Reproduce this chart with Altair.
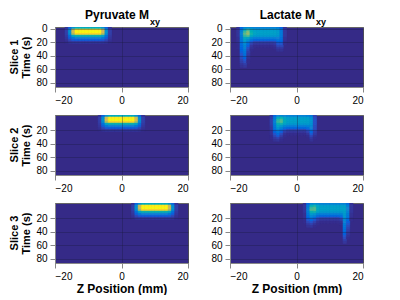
import altair as alt
import pandas as pd

# ---- axes ----
Z_DOMAIN = [-20, 20]
Z_TICKS = [-20, 0, 20]
T_DOMAIN = [-2.5, 86.5]
T_TICKS_TOP = [0, 20, 40, 60, 80]
T_TICKS = [20, 40, 60, 80]
T_START = -2.5   # top edge of first time row (s)
T_STEP = 3       # time row height (s)
Z_STEP = 1       # z cell width (mm)

ROW_LABELS = ["Slice 1", "Slice 2", "Slice 3"]
COL_TITLES = ["Pyruvate M", "Lactate M"]
SUBSCRIPT = "xy"
X_TITLE = "Z Position (mm)"
Y_TITLE = "Time (s)"

# ---- parula colormap samples (0 .. 1) ----
PARULA = ["#352a87", "#0363e1", "#1485d4", "#06a7c6", "#38b99e",
          "#92bf73", "#d9ba56", "#fcce2e", "#f9fb0e"]
BG = "#352a87"

# ---- Pyruvate Mxy (same shape for each slice, shifted) ----
PYR = [
    [.02, .12, .30, .40, .40, .40, .40, .40, .40, .40, .40, .30, .12, .02],
    [.05, .28, .72, .95, .95, .95, .95, .95, .95, .95, .95, .72, .28, .05],
    [.05, .30, .75, 1.0, 1.0, 1.0, 1.0, 1.0, 1.0, 1.0, 1.0, .75, .30, .05],
    [.05, .28, .68, .90, .90, .90, .90, .90, .90, .90, .90, .68, .28, .05],
    [.04, .18, .38, .45, .45, .45, .45, .45, .45, .45, .45, .38, .18, .04],
    [.03, .12, .22, .25, .25, .25, .25, .25, .25, .25, .25, .22, .12, .03],
    [.02, .07, .11, .12, .12, .12, .12, .12, .12, .12, .12, .11, .07, .02],
    [.01, .03, .04, .04, .04, .04, .04, .04, .04, .04, .04, .04, .03, .01],
]
PYR_Z0 = [-17, -7, 3]

# ---- Lactate Mxy, slice 1 ----
LAC1_Z0 = -18
LAC1 = [
    [.02, .14, .26, .28, .26, .24, .24, .24, .24, .24, .24, .24, .22, .13, .02],
    [.03, .20, .40, .50, .40, .35, .34, .34, .34, .34, .34, .34, .32, .19, .03],
    [.03, .23, .50, .60, .44, .37, .36, .36, .36, .36, .36, .36, .34, .21, .03],
    [.03, .24, .55, .64, .46, .38, .36, .36, .36, .36, .36, .36, .34, .21, .03],
    [.03, .23, .50, .54, .40, .34, .33, .33, .33, .33, .33, .33, .32, .20, .03],
    [.02, .21, .40, .38, .28, .24, .24, .24, .24, .24, .24, .24, .25, .18, .02],
    [.02, .20, .36, .30, .20, .15, .15, .15, .15, .15, .15, .16, .20, .16, .02],
    [.02, .18, .32, .22, .11, .07, .07, .07, .07, .07, .07, .08, .14, .13, .01],
    [.01, .16, .28, .16, .06, .03, .03, .03, .03, .03, .03, .04, .10, .10, .01],
    [.01, .15, .26, .12, .03, .01, .01, .01, .01, .01, .01, .02, .07, .07, 0],
    [.01, .14, .24, .09, .02, 0, 0, 0, 0, 0, 0, .01, .04, .04, 0],
    [0, .13, .22, .07, .01, 0, 0, 0, 0, 0, 0, 0, .02, .02, 0],
    [0, .12, .20, .05, 0, 0, 0, 0, 0, 0, 0, 0, 0, 0, 0],
    [0, .10, .18, .04, 0, 0, 0, 0, 0, 0, 0, 0, 0, 0, 0],
    [0, .09, .16, .03, 0, 0, 0, 0, 0, 0, 0, 0, 0, 0, 0],
    [0, .08, .13, .02, 0, 0, 0, 0, 0, 0, 0, 0, 0, 0, 0],
    [0, .06, .10, .01, 0, 0, 0, 0, 0, 0, 0, 0, 0, 0, 0],
    [0, .05, .08, .01, 0, 0, 0, 0, 0, 0, 0, 0, 0, 0, 0],
    [0, .03, .05, 0, 0, 0, 0, 0, 0, 0, 0, 0, 0, 0, 0],
    [0, .02, .03, 0, 0, 0, 0, 0, 0, 0, 0, 0, 0, 0, 0],
]

# ---- Lactate Mxy, slice 2 ----
LAC2_Z0 = -8
LAC2 = [
    [.03, .14, .25, .27, .25, .24, .24, .24, .24, .24, .24, .23, .20, .06],
    [.04, .20, .40, .45, .37, .34, .34, .34, .34, .34, .34, .33, .29, .08],
    [.05, .23, .48, .52, .40, .36, .36, .36, .36, .36, .36, .35, .31, .09],
    [.05, .24, .50, .54, .41, .36, .36, .36, .36, .36, .36, .35, .31, .09],
    [.05, .23, .45, .46, .37, .33, .33, .33, .33, .33, .33, .33, .30, .09],
    [.04, .21, .37, .34, .27, .24, .24, .24, .24, .24, .24, .26, .27, .08],
    [.03, .19, .32, .26, .18, .15, .15, .15, .15, .15, .15, .18, .25, .08],
    [.03, .16, .26, .18, .10, .07, .07, .07, .07, .07, .07, .11, .20, .07],
    [.02, .13, .21, .12, .05, .03, .03, .03, .03, .03, .03, .06, .15, .05],
    [.02, .10, .16, .08, .02, .01, .01, .01, .01, .01, .01, .03, .11, .04],
    [.01, .07, .11, .05, .01, 0, 0, 0, 0, 0, 0, .01, .07, .02],
    [.01, .04, .06, .02, 0, 0, 0, 0, 0, 0, 0, 0, .04, .01],
    [0, .02, .03, .01, 0, 0, 0, 0, 0, 0, 0, 0, .02, 0],
]

# ---- Lactate Mxy, slice 3 ----
LAC3_Z0 = 2
LAC3 = [
    [.02, .14, .26, .28, .26, .24, .24, .24, .24, .24, .24, .24, .24, .16, .02],
    [.03, .20, .42, .46, .37, .34, .34, .34, .34, .34, .34, .34, .34, .23, .03],
    [.03, .23, .50, .53, .40, .36, .36, .36, .36, .36, .36, .36, .36, .25, .03],
    [.03, .24, .53, .54, .40, .36, .36, .36, .36, .36, .36, .36, .37, .25, .03],
    [.03, .23, .45, .46, .37, .33, .33, .33, .33, .33, .33, .33, .36, .24, .03],
    [.02, .20, .35, .33, .26, .24, .24, .24, .24, .24, .24, .26, .33, .22, .02],
    [.02, .17, .28, .24, .17, .15, .15, .15, .15, .15, .15, .18, .32, .21, .02],
    [.02, .13, .21, .16, .09, .07, .07, .07, .07, .07, .07, .10, .30, .18, .01],
    [.01, .10, .15, .10, .05, .03, .03, .03, .03, .03, .03, .05, .27, .15, .01],
    [.01, .07, .10, .06, .02, .01, .01, .01, .01, .01, .01, .02, .25, .12, 0],
    [0, .04, .06, .03, .01, 0, 0, 0, 0, 0, 0, .01, .23, .10, 0],
    [0, .02, .03, .01, 0, 0, 0, 0, 0, 0, 0, 0, .21, .08, 0],
    [0, 0, 0, 0, 0, 0, 0, 0, 0, 0, 0, 0, .19, .06, 0],
    [0, 0, 0, 0, 0, 0, 0, 0, 0, 0, 0, 0, .17, .05, 0],
    [0, 0, 0, 0, 0, 0, 0, 0, 0, 0, 0, 0, .15, .04, 0],
    [0, 0, 0, 0, 0, 0, 0, 0, 0, 0, 0, 0, .13, .03, 0],
    [0, 0, 0, 0, 0, 0, 0, 0, 0, 0, 0, 0, .10, .02, 0],
    [0, 0, 0, 0, 0, 0, 0, 0, 0, 0, 0, 0, .08, .01, 0],
    [0, 0, 0, 0, 0, 0, 0, 0, 0, 0, 0, 0, .05, 0, 0],
    [0, 0, 0, 0, 0, 0, 0, 0, 0, 0, 0, 0, .03, 0, 0],
]

PANELS = {
    (0, 0): (PYR, PYR_Z0[0]), (1, 0): (PYR, PYR_Z0[1]), (2, 0): (PYR, PYR_Z0[2]),
    (0, 1): (LAC1, LAC1_Z0), (1, 1): (LAC2, LAC2_Z0), (2, 1): (LAC3, LAC3_Z0),
}


def cells(matrix, z0):
    recs = []
    for i, row in enumerate(matrix):
        for j, v in enumerate(row):
            if v > 0:
                recs.append({
                    "z": z0 + j * Z_STEP, "z2": z0 + (j + 1) * Z_STEP,
                    "t": T_START + i * T_STEP, "t2": T_START + (i + 1) * T_STEP,
                    "v": v,
                })
    return pd.DataFrame(recs)


FONT = "Liberation Sans"
W, H = 133, 60
GRID = "#1a1a40"
color_scale = alt.Scale(domain=[0, 1], range=PARULA)


def panel(r, c):
    matrix, z0 = PANELS[(r, c)]
    df = cells(matrix, z0)
    common = dict(zindex=1, grid=True, gridColor=GRID, gridOpacity=0.35, gridWidth=1)
    xaxis = alt.Axis(values=Z_TICKS, title=X_TITLE if r == 2 else None,
                     labelPadding=3, titlePadding=2, titleFontSize=12, **common)
    if c == 0:
        yaxis = alt.Axis(values=T_TICKS_TOP if r == 0 else T_TICKS,
                         title=Y_TITLE, titleX=-24, labelPadding=3, **common)
    else:
        yaxis = alt.Axis(values=T_TICKS_TOP if r == 0 else T_TICKS, title=None,
                         labelPadding=3, **common)
    heat = alt.Chart(df).mark_rect(strokeWidth=0.6, clip=True).encode(
        x=alt.X("z:Q", scale=alt.Scale(domain=Z_DOMAIN, nice=False, zero=False), axis=xaxis),
        x2="z2:Q",
        y=alt.Y("t:Q", scale=alt.Scale(domain=T_DOMAIN, reverse=True, nice=False, zero=False), axis=yaxis),
        y2="t2:Q",
        color=alt.Color("v:Q", scale=color_scale, legend=None),
        stroke=alt.Color("v:Q", scale=color_scale, legend=None),
    )
    layers = [heat]
    if c == 0:
        sdf = pd.DataFrame({"slice": [ROW_LABELS[r]]})
        layers.append(alt.Chart(sdf).mark_text(
            angle=270, align="center", baseline="middle", font=FONT,
            fontWeight="bold", fontSize=11, color="black").encode(
            text="slice:N", x=alt.value(-40), y=alt.value(H / 2)))
    if r == 0:
        tdf = pd.DataFrame({"main": [COL_TITLES[c]], "sub": [SUBSCRIPT]})
        mx = 94 if c == 0 else 85
        layers.append(alt.Chart(tdf).mark_text(
            align="right", baseline="alphabetic", font=FONT, fontWeight="bold",
            fontSize=12, color="black").encode(
            text="main:N", x=alt.value(mx), y=alt.value(-8)))
        layers.append(alt.Chart(tdf).mark_text(
            align="left", baseline="alphabetic", font=FONT, fontWeight="bold",
            fontSize=9, color="black").encode(
            text="sub:N", x=alt.value(mx + 1), y=alt.value(-2)))
    return alt.layer(*layers).properties(
        width=W, height=H,
        view=alt.ViewBackground(fill=BG, stroke="#666666", strokeWidth=1),
    )


panels = [panel(r, c) for r in range(3) for c in range(2)]

chart = alt.concat(
    *panels, columns=2, spacing={"row": 28, "column": 42}, bounds="flush"
).configure_view(
    fill=BG, stroke="#666666", strokeWidth=1
).configure_axis(
    labelFont=FONT, labelFontWeight="bold", labelFontSize=10, labelColor="black",
    titleFont=FONT, titleFontWeight="bold", titleFontSize=11, titleColor="black",
    domain=False, ticks=False,
).configure(
    padding={"left": 0, "top": 0, "right": 5, "bottom": 0}
)

chart.save("out.html", embed_options={"renderer": "svg", "actions": False})
